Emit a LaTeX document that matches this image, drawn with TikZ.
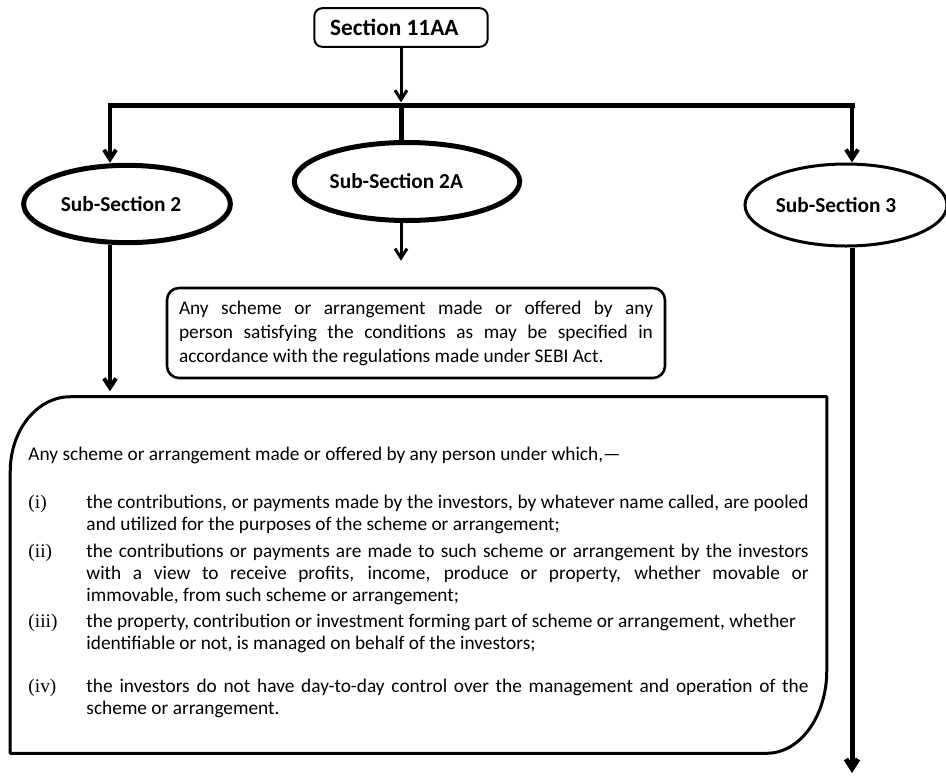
\documentclass[tikz,border=0pt]{standalone}
\usepackage{fontspec}
\setmainfont{Carlito}
\newfontfamily\clausefont{Liberation Serif}
\usetikzlibrary{arrows.meta,shapes.geometric}

% numbered clause with hanging label
\newcommand\clause[2]{\par\hangindent=43.5pt\hangafter=1\noindent
  \makebox[43.5pt][l]{\clausefont #1}#2\par}

\begin{document}
\begin{tikzpicture}[
  x=0.75pt, y=-0.75pt,
  font=\fontsize{14.5}{16.5}\selectfont,
  rootbox/.style={draw,line width=1.5pt,rounded corners=6pt,inner sep=0pt,
    minimum width=130pt,minimum height=29pt,font=\fontsize{17.5}{20}\selectfont\bfseries},
  subsec/.style={ellipse,draw,line width=3.75pt,inner sep=0pt,
    font=\fontsize{16}{19}\selectfont\bfseries},
  textbox/.style={draw,line width=1.9pt,rounded corners=9pt,align=justify,
    inner xsep=9pt,font=\fontsize{14.5}{18}\selectfont},
  frame/.style={line width=2.25pt,line join=round},
  bar/.style={line width=3.75pt,line cap=rect},
  link/.style={line width=3pt,-{Straight Barb[length=7pt,width=9pt]}}
]
\useasboundingbox (0,0) rectangle (946,776);

% ---- root and fork ----
\node[rootbox] (sec) at (401,27.5) {Section 11AA\hspace*{10pt}};
\coordinate (fork)  at (401,105);
\coordinate (forkl) at (110,105);
\coordinate (forkr) at (852,105);

% ---- sub-sections (labels sit a little left of centre) ----
\node[subsec,minimum width=155pt,minimum height=58pt] (ss2) at (127,204) {Sub-Section 2\hspace*{9pt}};
\node[subsec,minimum width=169pt,minimum height=58.5pt] (ss2a) at (407,181.5) {Sub-Section 2A\hspace*{16pt}};
\node[subsec,line width=2.25pt,minimum width=151.5pt,minimum height=61.5pt] (ss3) at (846,205) {Sub-Section 3\hspace*{15pt}};

% ---- text boxes ----
\node[textbox,text width=355.5pt,minimum height=67.5pt] (info2a) at (416,333)
  {Any scheme or arrangement made or offered by any\linebreak
   person satisfying the conditions as may be specified in\linebreak
   accordance with the regulations made under SEBI Act.};

\node[align=justify,text width=585pt,inner xsep=13.5pt,minimum height=267pt] (info2) at (418.5,575)
  {\noindent\rule{0pt}{21pt}Any scheme or arrangement made or offered by any person under which,---\par
   \vspace{20pt}
   \clause{(i)}{the contributions, or payments made by the investors, by whatever name called, are pooled\linebreak
     and utilized for the purposes of the scheme or arrangement;}
   \vspace{3.4pt}
   \clause{(ii)}{the contributions or payments are made to such scheme or arrangement by the investors\linebreak
     with a view to receive profits, income, produce or property, whether movable or\linebreak
     immovable, from such scheme or arrangement;}
   \vspace{3.4pt}
   \clause{(iii)}{the property, contribution or investment forming part of scheme or arrangement, whether\newline
     identifiable or not, is managed on behalf of the investors;}
   \vspace{15.4pt}
   \clause{(iv)}{the investors do not have day-to-day control over the management and operation of the\linebreak
     scheme or arrangement.}};
\draw[frame] ([xshift=45pt]info2.north west) -- (info2.north east)
  -- ([yshift=62pt]info2.south east) arc[start angle=0,end angle=-90,x radius=45pt,y radius=62pt]
  -- (info2.south west) -- ([yshift=-56pt]info2.north west)
  arc[start angle=180,end angle=90,x radius=45pt,y radius=56pt] -- cycle;

% ---- connectors ----
\draw[bar] (forkl) -- (forkr);
\draw[link,line width=2.25pt,shorten >=2pt] (sec) -- (fork);
\draw[bar] (fork) -- (fork |- ss2a.north);
\draw[link] (forkl) -- (forkl |- ss2.north);
\draw[link] (forkr) -- (forkr |- ss3.north);
\draw[link,line width=2.25pt,shorten >=19.5pt] (fork |- ss2a.south) -- (fork |- info2a.north);
\draw[link,shorten >=4pt] (forkl |- ss2.south) -- (forkl |- info2.north);
\coordinate (tail) at (852,773);
\draw[link,line width=3.75pt] (forkr |- ss3.south) -- (tail);

\end{tikzpicture}
\end{document}
